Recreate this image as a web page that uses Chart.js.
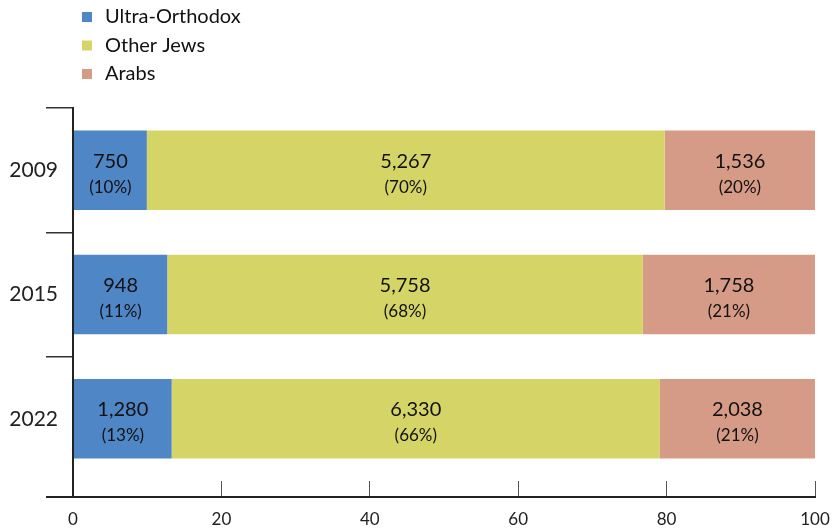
<!DOCTYPE html>
<html><head><meta charset="utf-8">
<script src="https://cdn.jsdelivr.net/npm/chart.js@4/dist/chart.umd.min.js"></script>
<style>html,body{margin:0;padding:0;background:#fff;}#wrap{position:relative;width:832px;height:528px;}</style>
</head><body><div id="wrap"><canvas id="c" width="832" height="528"></canvas></div>
<script>
const years = ['2009', '2015', '2022'];
const seriesNames = ['Ultra-Orthodox', 'Other Jews', 'Arabs'];
// bar lengths (share of 100) as drawn in the picture
const ultraShare = [9.95, 12.7, 13.3];
const otherShare = [69.8, 64.1, 65.8];
const arabShare = [20.25, 23.2, 20.9];
// printed labels
const ultraCount = [750, 948, 1280];
const otherCount = [5267, 5758, 6330];
const arabCount = [1536, 1758, 2038];
const ultraPct = [10, 11, 13];
const otherPct = [70, 68, 66];
const arabPct = [20, 21, 21];
const xTicks = [0, 20, 40, 60, 80, 100];
const colors = ['#4F86C6', '#D5D567', '#D69B87'];

const FONT = 'Lato';
const shares = [ultraShare, otherShare, arabShare];
const counts = [ultraCount, otherCount, arabCount];
const pcts = [ultraPct, otherPct, arabPct];

const datasets = seriesNames.map((name, i) => ({
  label: name,
  data: shares[i],
  counts: counts[i],
  pcts: pcts[i],
  backgroundColor: colors[i],
  borderWidth: 0,
  barPercentage: 0.64,
  categoryPercentage: 1
}));

const X_TICK_LEN = 16, Y_TICK_LEN = 27;

const labelPlugin = {
  id: 'segLabels',
  afterDatasetsDraw(chart) {
    const ctx = chart.ctx;
    ctx.save();
    ctx.fillStyle = '#111';
    ctx.textAlign = 'center';
    ctx.textBaseline = 'middle';
    chart.data.datasets.forEach((ds, di) => {
      const meta = chart.getDatasetMeta(di);
      meta.data.forEach((bar, j) => {
        const p = bar.getProps(['x', 'y', 'base'], true);
        const cx = (p.x + p.base) / 2;
        ctx.font = '20px ' + FONT;
        ctx.fillText(ds.counts[j].toLocaleString('en-US'), cx, p.y - 9);
        ctx.font = '17px ' + FONT;
        ctx.fillText('(' + ds.pcts[j] + '%)', cx, p.y + 17);
      });
    });
    ctx.restore();
  }
};

const axisLinePlugin = {
  id: 'axisLine',
  afterDraw(chart) {
    const ctx = chart.ctx, a = chart.chartArea;
    const y = chart.scales.x.top + X_TICK_LEN;
    ctx.save();
    ctx.strokeStyle = '#222';
    ctx.lineWidth = 2;
    ctx.beginPath();
    ctx.moveTo(a.left - Y_TICK_LEN, y);
    ctx.lineTo(a.right + 1, y);
    ctx.stroke();
    ctx.restore();
  }
};

const legendPlugin = {
  id: 'vLegend',
  afterDraw(chart) {
    const ctx = chart.ctx;
    ctx.save();
    ctx.textAlign = 'left';
    ctx.textBaseline = 'middle';
    ctx.font = '20px ' + FONT;
    chart.data.datasets.forEach((ds, i) => {
      const cy = 17 + i * 28.5;
      ctx.fillStyle = ds.backgroundColor;
      ctx.fillRect(82, cy - 5, 10, 10);
      ctx.fillStyle = '#111';
      ctx.fillText(ds.label, 105, cy);
    });
    ctx.restore();
  }
};

new Chart(document.getElementById('c'), {
  type: 'bar',
  data: { labels: years, datasets },
  options: {
    indexAxis: 'y',
    responsive: false,
    animation: false,
    devicePixelRatio: 1,
    layout: { padding: { top: 108, right: 17, left: 0, bottom: 0 } },
    plugins: { legend: { display: false }, tooltip: { enabled: false } },
    scales: {
      x: {
        type: 'linear', stacked: true, min: 0, max: 100,
        afterBuildTicks: s => { s.ticks = xTicks.map(v => ({ value: v })); },
        grid: {
          drawOnChartArea: false, drawTicks: true, tickLength: X_TICK_LEN,
          color: c => (c.tick && c.tick.value === 0) ? '#222' : '#555',
          lineWidth: c => (c.tick && c.tick.value === 0) ? 2 : 1
        },
        border: { display: false },
        ticks: { padding: 14, color: '#222', font: { family: FONT, size: 17, lineHeight: 1 } },
        afterFit: s => { s.height = 47; s.paddingLeft = 0; s.paddingRight = 0; }
      },
      y: {
        type: 'category', stacked: true,
        grid: {
          offset: true, drawOnChartArea: false, tickLength: Y_TICK_LEN,
          color: c => c.type === 'tick' ? '#333' : 'rgba(0,0,0,0)',
          lineWidth: 1.5
        },
        border: { display: true, color: '#222', width: 2 },
        ticks: { padding: -12, color: '#222', font: { family: FONT, size: 21 } },
        afterFit: s => { s.width = 73; }
      }
    }
  },
  plugins: [labelPlugin, axisLinePlugin, legendPlugin]
});
</script>
</body></html>
